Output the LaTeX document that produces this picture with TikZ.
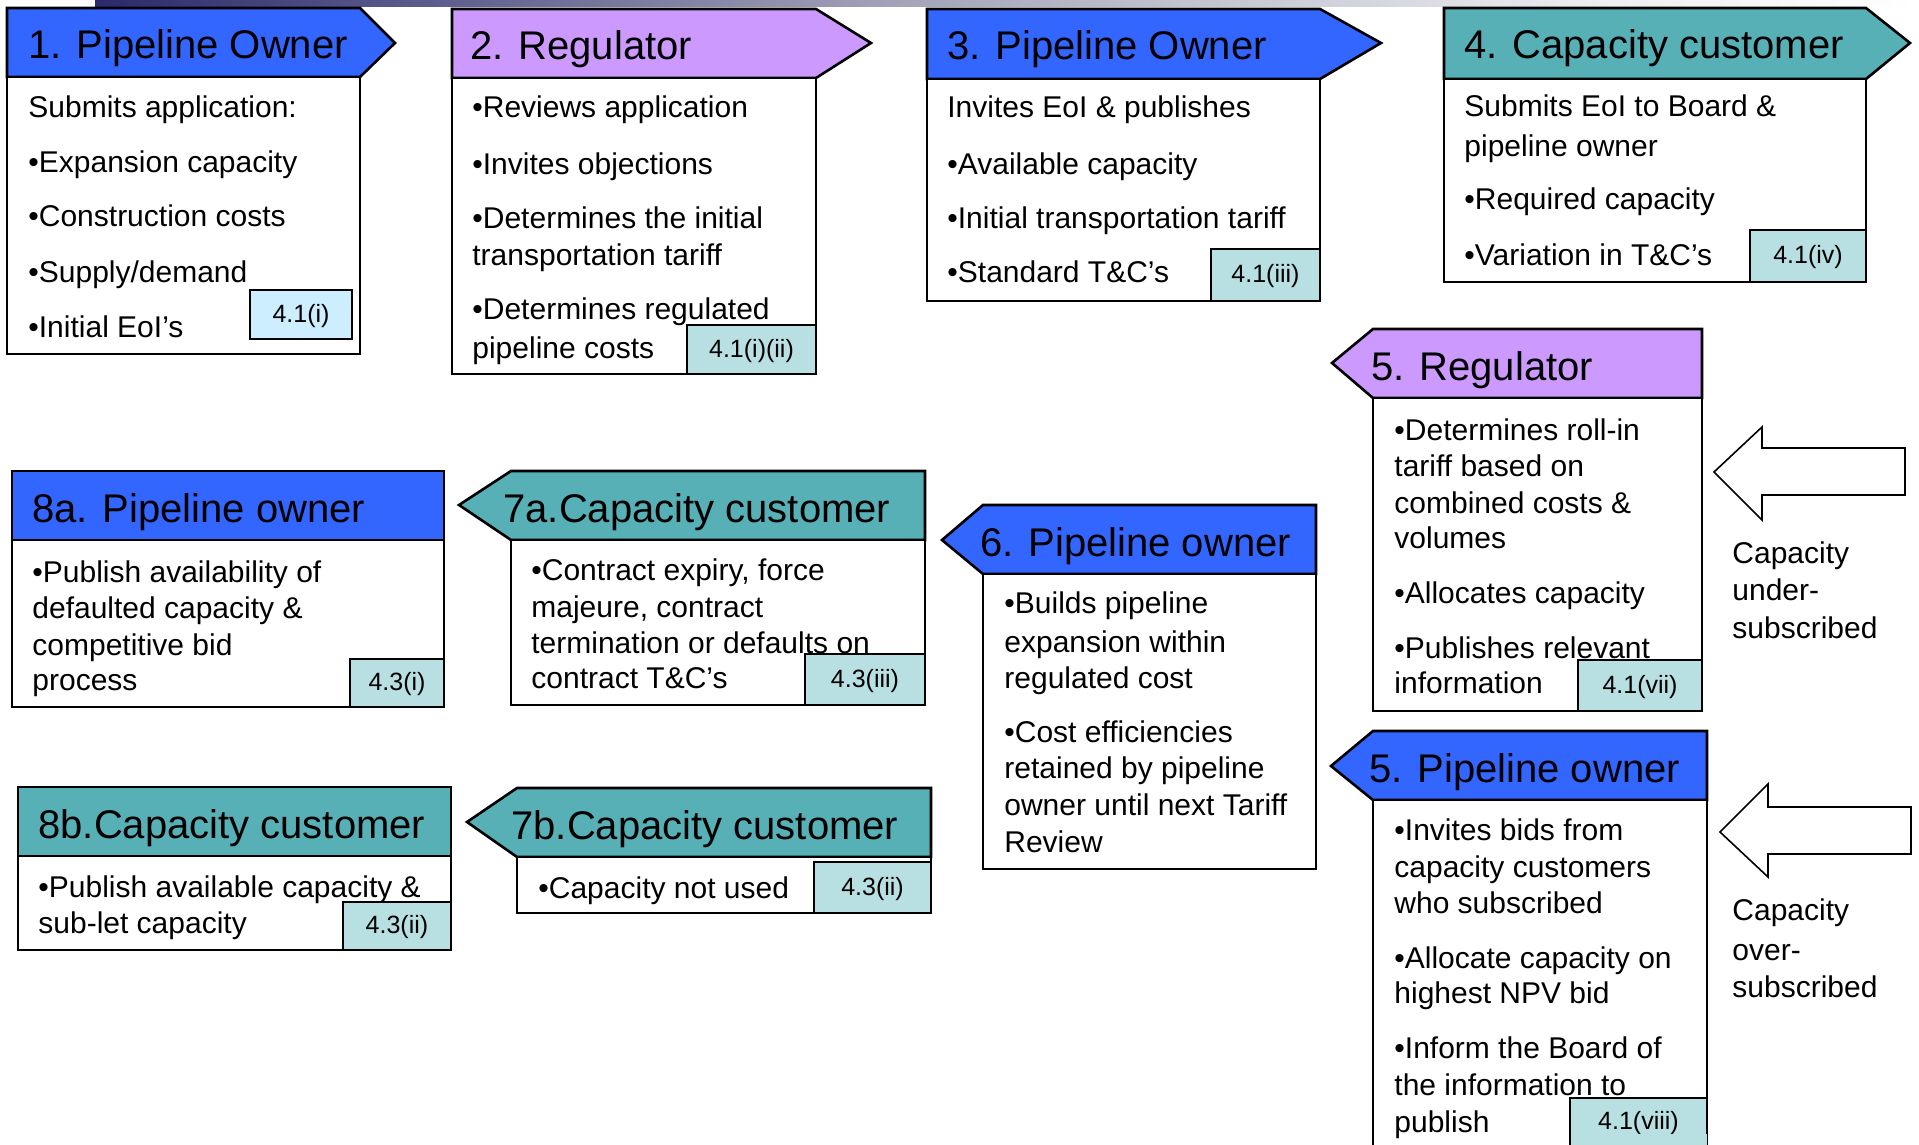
\documentclass[tikz,border=0pt]{standalone}
\usepackage{fontspec}
\setmainfont{Liberation Sans}
\definecolor{poblue}{HTML}{3366FF}
\definecolor{regpurple}{HTML}{CC99FF}
\definecolor{custteal}{HTML}{56B0B6}
\definecolor{refteal}{HTML}{B8E0E2}
\definecolor{refblue}{HTML}{CCEEFF}
\definecolor{barnavy}{HTML}{2A2A6C}
\definecolor{barmid}{HTML}{A4A4BA}
\definecolor{barlight}{HTML}{EEEEF0}
\begin{document}
\begin{tikzpicture}[x=0.5pt,y=-0.5pt,
  hdrshape/.style={draw=black,line width=1.3pt,line join=miter},
  bodybox/.style={draw=black,fill=white,line width=1.3pt},
  hdrtext/.style={anchor=base west,inner sep=0pt,font=\fontsize{20}{24}\selectfont},
  bodytext/.style={anchor=base west,inner sep=0pt,font=\fontsize{15}{18}\selectfont},
  refbadge/.style={draw=black,line width=0.8pt,fill=refteal,inner sep=0pt,text height=0.88em,text depth=0.12em,font=\fontsize{12.5}{15}\selectfont},
  blockarrow/.style={draw=black,fill=white,line width=0.8pt,line join=miter},
]
\useasboundingbox (0,0) rectangle (1919,1145);
\clip (0,0) rectangle (1919,1145);
\fill[white] (0,0) rectangle (1919,1145);
% top gradient bar
\shade[left color=barnavy,right color=barmid] (95,0) rectangle (905,7);
\shade[left color=barmid,right color=barlight] (904,0) rectangle (1600,7);
\shade[left color=barlight,right color=white] (1599,0) rectangle (1919,7);

% ---------- Box 1 ----------
\draw[hdrshape,fill=poblue] (7,8) -- (360,8) -- (395,43) -- (360,77) -- (7,77) -- cycle;
\draw[bodybox] (7,77) rectangle (360,354);
\node[hdrtext] (h1) at (28,59) {1. Pipeline Owner};
\node[bodytext] (t1a) at (28,118) {Submits application:};
\node[bodytext] (t1b) at (28,173) {•Expansion capacity};
\node[bodytext] (t1c) at (28,227) {•Construction costs};
\node[bodytext] (t1d) at (28,282) {•Supply/demand};
\node[bodytext] (t1e) at (28,337) {•Initial EoI’s};
\node[refbadge,fill=refblue,minimum width=51pt,minimum height=24.5pt] (r1) at (301,314.5) {4.1(i)};

% ---------- Box 2 ----------
\draw[hdrshape,fill=regpurple] (452,9) -- (816,9) -- (871,43) -- (816,78) -- (452,78) -- cycle;
\draw[bodybox] (452,78) rectangle (816,374);
\node[hdrtext] (h2) at (470,60) {2. Regulator};
\node[bodytext] (t2a) at (472,118) {•Reviews application};
\node[bodytext] (t2b) at (472,175) {•Invites objections};
\node[bodytext] (t2c) at (472,228) {•Determines the initial};
\node[bodytext] (t2d) at (472,265) {transportation tariff};
\node[bodytext] (t2e) at (472,320) {•Determines regulated};
\node[bodytext] (t2f) at (472,358) {pipeline costs};
\node[refbadge,minimum width=64.5pt,minimum height=24.5pt] (r2) at (751.5,349.5) {4.1(i)(ii)};

% ---------- Box 3 ----------
\draw[hdrshape,fill=poblue] (927,9) -- (1320,9) -- (1381,43) -- (1320,79) -- (927,79) -- cycle;
\draw[bodybox] (927,79) rectangle (1320,301);
\node[hdrtext] (h3) at (947,60) {3. Pipeline Owner};
\node[bodytext] (t3a) at (947,118) {Invites EoI \& publishes};
\node[bodytext] (t3b) at (947,175) {•Available capacity};
\node[bodytext] (t3c) at (947,228) {•Initial transportation tariff};
\node[bodytext] (t3d) at (947,283) {•Standard T\&C’s};
\node[refbadge,minimum width=54.5pt,minimum height=26pt] (r3) at (1265.5,275) {4.1(iii)};

% ---------- Box 4 ----------
\draw[hdrshape,fill=custteal] (1444,8) -- (1866,8) -- (1910,43) -- (1866,79) -- (1444,79) -- cycle;
\draw[bodybox] (1444,79) rectangle (1866,282);
\node[hdrtext] (h4) at (1464,59) {4. Capacity customer};
\node[bodytext] (t4a) at (1464,117) {Submits EoI to Board \&};
\node[bodytext] (t4b) at (1464,157) {pipeline owner};
\node[bodytext] (t4c) at (1464,210) {•Required capacity};
\node[bodytext] (t4d) at (1464,265) {•Variation in T\&C’s};
\node[refbadge,minimum width=58pt,minimum height=26pt] (r4) at (1808,256) {4.1(iv)};

% ---------- Box 5 Regulator ----------
\draw[hdrshape,fill=regpurple] (1332,363) -- (1373,329) -- (1702,329) -- (1702,398) -- (1373,398) -- cycle;
\draw[bodybox] (1373,398) rectangle (1702,711);
\node[hdrtext] (h5r) at (1371,380) {5. Regulator};
\node[bodytext] (t5ra) at (1394,440) {•Determines roll-in};
\node[bodytext] (t5rb) at (1394,476) {tariff based on};
\node[bodytext] (t5rc) at (1394,513) {combined costs \&};
\node[bodytext] (t5rd) at (1394,548) {volumes};
\node[bodytext] (t5re) at (1394,603) {•Allocates capacity};
\node[bodytext] (t5rf) at (1394,658) {•Publishes relevant};
\node[bodytext] (t5rg) at (1394,693) {information};
\node[refbadge,minimum width=62pt,minimum height=25.5pt] (r5r) at (1640,685.5) {4.1(vii)};

% ---------- Box 5 Pipeline owner ----------
\draw[hdrshape,fill=poblue] (1331,766) -- (1373,731) -- (1707,731) -- (1707,800) -- (1373,800) -- cycle;
\draw[bodybox] (1373,800) rectangle (1707,1170);
\node[hdrtext] (h5p) at (1369,782) {5. Pipeline owner};
\node[bodytext] (t5pa) at (1394,840) {•Invites bids from};
\node[bodytext] (t5pb) at (1394,877) {capacity customers};
\node[bodytext] (t5pc) at (1394,913) {who subscribed};
\node[bodytext] (t5pd) at (1394,968) {•Allocate capacity on};
\node[bodytext] (t5pe) at (1394,1003) {highest NPV bid};
\node[bodytext] (t5pf) at (1394,1058) {•Inform the Board of};
\node[bodytext] (t5pg) at (1394,1095) {the information to};
\node[bodytext] (t5ph) at (1394,1132) {publish};
\node[refbadge,minimum width=68.5pt,minimum height=24pt] (r5p) at (1638.5,1122) {4.1(viii)};
\fill[refteal] (1570.4,1134) rectangle (1706.6,1150);
\draw[draw=black,line width=0.8pt] (1570,1134) -- (1570,1150);

% ---------- Box 6 ----------
\draw[hdrshape,fill=poblue] (942,540) -- (983,505) -- (1316,505) -- (1316,574) -- (983,574) -- cycle;
\draw[bodybox] (983,574) rectangle (1316,869);
\node[hdrtext] (h6) at (980,556) {6. Pipeline owner};
\node[bodytext] (t6a) at (1004,613) {•Builds pipeline};
\node[bodytext] (t6b) at (1004,652) {expansion within};
\node[bodytext] (t6c) at (1004,688) {regulated cost};
\node[bodytext] (t6d) at (1004,742) {•Cost efficiencies};
\node[bodytext] (t6e) at (1004,778) {retained by pipeline};
\node[bodytext] (t6f) at (1004,815) {owner until next Tariff};
\node[bodytext] (t6g) at (1004,852) {Review};

% ---------- Box 8a ----------
\draw[hdrshape,fill=poblue] (12,471) rectangle (444,540);
\draw[bodybox] (12,540) rectangle (444,707);
\node[hdrtext] (h8a) at (32,522) {8a. Pipeline owner};
\node[bodytext] (t8aa) at (32,582) {•Publish availability of};
\node[bodytext] (t8ab) at (32,618) {defaulted capacity \&};
\node[bodytext] (t8ac) at (32,655) {competitive bid};
\node[bodytext] (t8ad) at (32,690) {process};
\node[refbadge,minimum width=47pt,minimum height=24pt] (r8a) at (397,683) {4.3(i)};

% ---------- Box 7a ----------
\draw[hdrshape,fill=custteal] (459,505) -- (511,471) -- (925,471) -- (925,540) -- (511,540) -- cycle;
\draw[bodybox] (511,540) rectangle (925,705);
\node[hdrtext] (h7a) at (503,522) {7a.Capacity customer};
\node[bodytext] (t7aa) at (531,580) {•Contract expiry, force};
\node[bodytext] (t7ab) at (531,617) {majeure, contract};
\node[bodytext] (t7ac) at (531,653) {termination or defaults on};
\node[bodytext] (t7ad) at (531,688) {contract T\&C’s};
\node[refbadge,minimum width=60pt,minimum height=25.5pt] (r7a) at (865,679.5) {4.3(iii)};

% ---------- Box 8b ----------
\draw[hdrshape,fill=custteal] (18,787) rectangle (451,856);
\draw[bodybox] (18,856) rectangle (451,950);
\node[hdrtext] (h8b) at (38,838) {8b.Capacity customer};
\node[bodytext] (t8ba) at (38,897) {•Publish available capacity \&};
\node[bodytext] (t8bb) at (38,933) {sub-let capacity};
\node[refbadge,minimum width=54pt,minimum height=24pt] (r8b) at (397,926) {4.3(ii)};

% ---------- Box 7b ----------
\draw[hdrshape,fill=custteal] (467,822) -- (517,788) -- (931,788) -- (931,857) -- (517,857) -- cycle;
\draw[bodybox] (517,857) rectangle (931,913);
\node[hdrtext] (h7b) at (511,839) {7b.Capacity customer};
\node[bodytext] (t7ba) at (538,898) {•Capacity not used};
\node[refbadge,minimum width=58.5pt,minimum height=25.5pt] (r7b) at (872.5,887.5) {4.3(ii)};

% ---------- Block arrows and labels ----------
\draw[blockarrow] (1905,448) -- (1762,448) -- (1762,427) -- (1714,472) -- (1762,520) -- (1762,495) -- (1905,495) -- cycle;
\node[bodytext] (la) at (1732,563) {Capacity};
\node[bodytext] (lb) at (1732,600) {under-};
\node[bodytext] (lc) at (1732,638) {subscribed};

\draw[blockarrow] (1911,807) -- (1768,807) -- (1768,784) -- (1720,832) -- (1768,877) -- (1768,854) -- (1911,854) -- cycle;
\node[bodytext] (ld) at (1732,920) {Capacity};
\node[bodytext] (le) at (1732,960) {over-};
\node[bodytext] (lf) at (1732,997) {subscribed};
\end{tikzpicture}
\end{document}
